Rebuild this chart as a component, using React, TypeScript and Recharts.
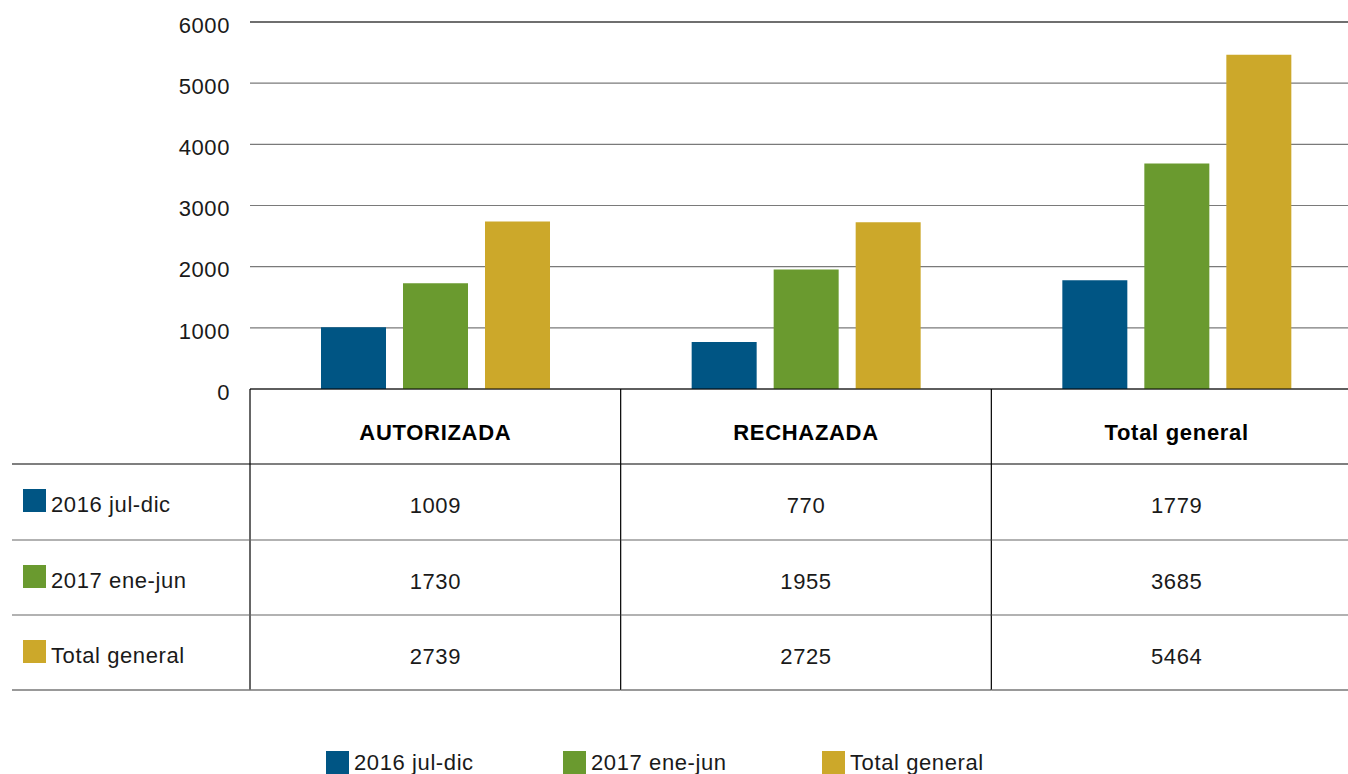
import React from 'react';
import { BarChart, Bar, XAxis, YAxis, CartesianGrid, ReferenceLine } from 'recharts';

const categories = ['AUTORIZADA', 'RECHAZADA', 'Total general'];
const serie2016 = [1009, 770, 1779];
const serie2017 = [1730, 1955, 3685];
const serieTotal = [2739, 2725, 5464];
const seriesNames = ['2016 jul-dic', '2017 ene-jun', 'Total general'];
const seriesKeys = ['s2016', 's2017', 'total'];
const colors = ['#005584', '#6a9a2f', '#cca82a'];
const yTicks = [0, 1000, 2000, 3000, 4000, 5000, 6000];

const seriesValues = [serie2016, serie2017, serieTotal];
const data = categories.map((c, i) => ({
  name: c,
  s2016: serie2016[i],
  s2017: serie2017[i],
  total: serieTotal[i],
}));

const FONT = '"Liberation Sans", Arial, Helvetica, sans-serif';
const TEXT = '#1a1a1a';
const FS = 22;
const LS = 0.6;
const HALF = 185.33;
const ROW_TOP = [75, 151, 226];

const TableTick = (props: any) => {
  const { x, y, payload, index } = props;
  const left = x - HALF;
  const right = x + HALF;
  return (
    <g>
      <line x1={left} x2={left} y1={y} y2={y + 301} stroke="#000" strokeWidth={1.2} />
      <text x={x} y={y + 43} textAnchor="middle" dominantBaseline="central" fontFamily={FONT} fontSize={FS} letterSpacing={0.7} fontWeight="bold" fill="#000">
        {payload.value}
      </text>
      {seriesValues.map((vals, r) => (
        <text key={r} x={x} y={y + ROW_TOP[r] + 41} textAnchor="middle" dominantBaseline="central" fontFamily={FONT} fontSize={FS} letterSpacing={LS} fill={TEXT}>
          {vals[index]}
        </text>
      ))}
      <line x1={left} x2={right} y1={y + 75} y2={y + 75} stroke="#000" strokeWidth={1.2} />
      <line x1={left} x2={right} y1={y + 151} y2={y + 151} stroke="#666" strokeWidth={1.2} />
      <line x1={left} x2={right} y1={y + 226} y2={y + 226} stroke="#666" strokeWidth={1.2} />
      <line x1={left} x2={right} y1={y + 301} y2={y + 301} stroke="#777" strokeWidth={1.6} />
      {index === 0 && (
        <g>
          <line x1={12} x2={left} y1={y + 75} y2={y + 75} stroke="#000" strokeWidth={1.2} />
          <line x1={12} x2={left} y1={y + 151} y2={y + 151} stroke="#666" strokeWidth={1.2} />
          <line x1={12} x2={left} y1={y + 226} y2={y + 226} stroke="#666" strokeWidth={1.2} />
          <line x1={12} x2={left} y1={y + 301} y2={y + 301} stroke="#777" strokeWidth={1.6} />
          {seriesNames.map((n, r) => (
            <g key={n}>
              <rect x={23} y={y + ROW_TOP[r] + 25} width={23} height={23} fill={colors[r]} />
              <text x={51} y={y + ROW_TOP[r] + 48} fontFamily={FONT} fontSize={FS} letterSpacing={LS} fill={TEXT}>
                {n}
              </text>
            </g>
          ))}
        </g>
      )}
    </g>
  );
};

const legendLefts = [326, 563, 822];

export default function App() {
  return (
    <div style={{ position: 'absolute', left: 0, top: 0, width: 1348, height: 774, overflow: 'hidden', background: '#fff', fontFamily: FONT }}>
      <BarChart
        width={1362}
        height={774}
        data={data}
        margin={{ top: 22, right: 0, bottom: 84, left: 0 }}
        barSize={65}
        barGap={17}
      >
        <CartesianGrid vertical={false} stroke="#7a7a7a" strokeWidth={1.2} />
        <ReferenceLine y={6000} stroke="#222" strokeWidth={1.2} />
        <YAxis
          width={250}
          domain={[0, 6000]}
          ticks={yTicks}
          axisLine={false}
          tickLine={false}
          tickSize={0}
          tickMargin={20}
          tick={{ fontSize: FS, fill: TEXT, fontFamily: FONT, dy: 3, letterSpacing: LS }}
        />
        <XAxis
          dataKey="name"
          height={301}
          interval={0}
          axisLine={{ stroke: '#000', strokeWidth: 1.2 }}
          tickLine={false}
          tickSize={0}
          tickMargin={0}
          tick={<TableTick />}
        />
        {seriesKeys.map((k, i) => (
          <Bar key={k} dataKey={k} name={seriesNames[i]} fill={colors[i]} isAnimationActive={false} />
        ))}
      </BarChart>
      {seriesNames.map((n, i) => (
        <div key={n} style={{ position: 'absolute', left: legendLefts[i], top: 751, display: 'flex', alignItems: 'flex-start', whiteSpace: 'nowrap' }}>
          <div style={{ width: 23, height: 23, background: colors[i] }} />
          <div style={{ marginLeft: 5, fontSize: FS, letterSpacing: LS, color: TEXT, lineHeight: '24px' }}>{n}</div>
        </div>
      ))}
    </div>
  );
}
